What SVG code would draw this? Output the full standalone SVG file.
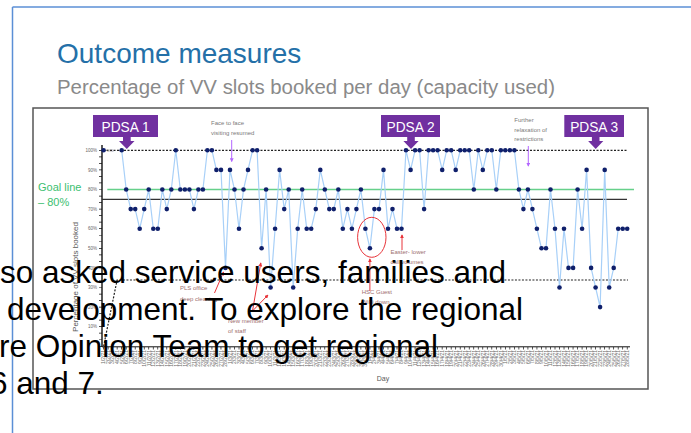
<svg xmlns="http://www.w3.org/2000/svg" width="691" height="433" viewBox="0 0 691 433">
<defs>
<style>
.sans{font-family:"Liberation Sans",Arial,sans-serif}
.pt{fill:#0f1f6b}
.tick{font-family:"Liberation Sans",Arial,sans-serif;font-size:4.5px;fill:#666}
.dl{font-family:"Liberation Sans",Arial,sans-serif;font-size:5px;fill:#6a6a6a}
.ann{font-family:"Liberation Sans",Arial,sans-serif;font-size:6px;fill:#7a7a7a}
.rann{font-family:"Liberation Sans",Arial,sans-serif;font-size:6px;fill:#a07070}
.pdsa{fill:#7030a0}
.pdsat{font-family:"Liberation Sans",Arial,sans-serif;font-size:15px;fill:#fff;text-anchor:middle}
.big{font-family:"Liberation Sans",Arial,sans-serif;font-size:31.5px;fill:#000}
.red{stroke:#e8343a;stroke-width:1;fill:none}
.pur{stroke:#b366ff;stroke-width:1;fill:none}
.dot{stroke:#222;stroke-width:1.2;stroke-dasharray:2 1.5;fill:none}
</style>
<marker id="ar" viewBox="0 0 6 6" refX="5" refY="3" markerWidth="4" markerHeight="4" orient="auto" markerUnits="userSpaceOnUse"><path d="M0,0 L6,3 L0,6 Z" fill="#e8343a"/></marker>
<marker id="ap" viewBox="0 0 6 6" refX="5" refY="3" markerWidth="4" markerHeight="4" orient="auto" markerUnits="userSpaceOnUse"><path d="M0,0 L6,3 L0,6 Z" fill="#b366ff"/></marker>
</defs>
<rect width="691" height="433" fill="#fff"/>
<g id="slide-frame">
<line x1="12.5" y1="7" x2="691" y2="7" stroke="#5b8fd6" stroke-width="1.5"/>
<line x1="12.5" y1="7" x2="12.5" y2="433" stroke="#5b8fd6" stroke-width="1.5"/>
</g>
<g id="title">
<text class="sans" x="57" y="63" font-size="28" fill="#2470a8">Outcome measures</text>
<text class="sans" x="57" y="94" font-size="20" fill="#8a8a8a" textLength="498" lengthAdjust="spacingAndGlyphs">Percentage of VV slots booked per day (capacity used)</text>
</g>
<g id="chart-frame">
<rect x="33" y="108" width="615" height="281" fill="#fff" stroke="#555" stroke-width="1.5"/>
</g>
<g id="axes">
<line x1="102" y1="145" x2="102" y2="347" stroke="#111" stroke-width="1.4"/>
<line x1="100.5" y1="149.95" x2="100.5" y2="347" stroke="#111" stroke-width="3" stroke-dasharray="0.7 5.833"/>
<line x1="102" y1="346.8" x2="630" y2="346.8" stroke="#111" stroke-width="1"/>
<line x1="103.25" y1="348.3" x2="630" y2="348.3" stroke="#111" stroke-width="2.5" stroke-dasharray="0.7 3.814"/>
<g class="tick" text-anchor="end">
<text x="97" y="151.9">100%</text><text x="97" y="171.5">90%</text><text x="97" y="191.1">80%</text><text x="97" y="210.7">70%</text><text x="97" y="230.3">60%</text><text x="97" y="249.9">50%</text><text x="97" y="269.5">40%</text><text x="97" y="289.1">30%</text><text x="97" y="308.7">20%</text><text x="97" y="328.3">10%</text>
</g>
<text class="sans" transform="translate(78,277) rotate(-90)" text-anchor="middle" font-size="8" fill="#595959">Percentage of VV slots booked</text>
<text class="sans" x="383" y="381" text-anchor="middle" font-size="7" fill="#595959">Day</text>
<g transform="rotate(-90)" class="dl" text-anchor="end">
<text><tspan x="-350" y="105.4">1/2/21</tspan><tspan x="-350" y="109.9">2/2/21</tspan><tspan x="-350" y="114.4">3/2/21</tspan><tspan x="-350" y="118.9">4/2/21</tspan><tspan x="-350" y="123.5">5/2/21</tspan><tspan x="-350" y="128.0">6/2/21</tspan><tspan x="-350" y="132.5">7/2/21</tspan><tspan x="-350" y="137.0">8/2/21</tspan><tspan x="-350" y="141.5">9/2/21</tspan><tspan x="-350" y="146.0">10/2/21</tspan><tspan x="-350" y="150.5">11/2/21</tspan><tspan x="-350" y="155.1">12/2/21</tspan><tspan x="-350" y="159.6">13/2/21</tspan><tspan x="-350" y="164.1">14/2/21</tspan><tspan x="-350" y="168.6">15/2/21</tspan><tspan x="-350" y="173.1">16/2/21</tspan><tspan x="-350" y="177.6">17/2/21</tspan><tspan x="-350" y="182.1">18/2/21</tspan><tspan x="-350" y="186.7">19/2/21</tspan><tspan x="-350" y="191.2">20/2/21</tspan><tspan x="-350" y="195.7">21/2/21</tspan><tspan x="-350" y="200.2">22/2/21</tspan><tspan x="-350" y="204.7">23/2/21</tspan><tspan x="-350" y="209.2">24/2/21</tspan><tspan x="-350" y="213.7">25/2/21</tspan><tspan x="-350" y="218.3">26/2/21</tspan><tspan x="-350" y="222.8">27/2/21</tspan><tspan x="-350" y="227.3">28/2/21</tspan><tspan x="-350" y="231.8">1/3/21</tspan><tspan x="-350" y="236.3">2/3/21</tspan><tspan x="-350" y="240.8">3/3/21</tspan><tspan x="-350" y="245.3">4/3/21</tspan><tspan x="-350" y="249.8">5/3/21</tspan><tspan x="-350" y="254.4">6/3/21</tspan><tspan x="-350" y="258.9">7/3/21</tspan><tspan x="-350" y="263.4">8/3/21</tspan><tspan x="-350" y="267.9">9/3/21</tspan><tspan x="-350" y="272.4">10/3/21</tspan><tspan x="-350" y="276.9">11/3/21</tspan><tspan x="-350" y="281.4">12/3/21</tspan><tspan x="-350" y="286.0">13/3/21</tspan><tspan x="-350" y="290.5">14/3/21</tspan><tspan x="-350" y="295.0">15/3/21</tspan><tspan x="-350" y="299.5">16/3/21</tspan><tspan x="-350" y="304.0">17/3/21</tspan><tspan x="-350" y="308.5">18/3/21</tspan><tspan x="-350" y="313.0">19/3/21</tspan><tspan x="-350" y="317.6">20/3/21</tspan><tspan x="-350" y="322.1">21/3/21</tspan><tspan x="-350" y="326.6">22/3/21</tspan><tspan x="-350" y="331.1">23/3/21</tspan><tspan x="-350" y="335.6">24/3/21</tspan><tspan x="-350" y="340.1">25/3/21</tspan><tspan x="-350" y="344.6">26/3/21</tspan><tspan x="-350" y="349.2">27/3/21</tspan><tspan x="-350" y="353.7">28/3/21</tspan><tspan x="-350" y="358.2">29/3/21</tspan><tspan x="-350" y="362.7">30/3/21</tspan><tspan x="-350" y="367.2">31/3/21</tspan><tspan x="-350" y="371.7">1/4/21</tspan><tspan x="-350" y="376.2">2/4/21</tspan><tspan x="-350" y="380.8">3/4/21</tspan><tspan x="-350" y="385.3">4/4/21</tspan><tspan x="-350" y="389.8">5/4/21</tspan><tspan x="-350" y="394.3">6/4/21</tspan><tspan x="-350" y="398.8">7/4/21</tspan><tspan x="-350" y="403.3">8/4/21</tspan><tspan x="-350" y="407.8">9/4/21</tspan><tspan x="-350" y="412.4">10/4/21</tspan><tspan x="-350" y="416.9">11/4/21</tspan><tspan x="-350" y="421.4">12/4/21</tspan><tspan x="-350" y="425.9">13/4/21</tspan><tspan x="-350" y="430.4">14/4/21</tspan><tspan x="-350" y="434.9">15/4/21</tspan><tspan x="-350" y="439.4">16/4/21</tspan><tspan x="-350" y="444.0">17/4/21</tspan><tspan x="-350" y="448.5">18/4/21</tspan><tspan x="-350" y="453.0">19/4/21</tspan><tspan x="-350" y="457.5">20/4/21</tspan><tspan x="-350" y="462.0">21/4/21</tspan><tspan x="-350" y="466.5">22/4/21</tspan><tspan x="-350" y="471.0">23/4/21</tspan><tspan x="-350" y="475.5">24/4/21</tspan><tspan x="-350" y="480.1">25/4/21</tspan><tspan x="-350" y="484.6">26/4/21</tspan><tspan x="-350" y="489.1">27/4/21</tspan><tspan x="-350" y="493.6">28/4/21</tspan><tspan x="-350" y="498.1">29/4/21</tspan><tspan x="-350" y="502.6">30/4/21</tspan><tspan x="-350" y="507.1">1/5/21</tspan><tspan x="-350" y="511.7">2/5/21</tspan><tspan x="-350" y="516.2">3/5/21</tspan><tspan x="-350" y="520.7">4/5/21</tspan><tspan x="-350" y="525.2">5/5/21</tspan><tspan x="-350" y="529.7">6/5/21</tspan><tspan x="-350" y="534.2">7/5/21</tspan><tspan x="-350" y="538.7">8/5/21</tspan><tspan x="-350" y="543.3">9/5/21</tspan><tspan x="-350" y="547.8">10/5/21</tspan><tspan x="-350" y="552.3">11/5/21</tspan><tspan x="-350" y="556.8">12/5/21</tspan><tspan x="-350" y="561.3">13/5/21</tspan><tspan x="-350" y="565.8">14/5/21</tspan><tspan x="-350" y="570.3">15/5/21</tspan><tspan x="-350" y="574.9">16/5/21</tspan><tspan x="-350" y="579.4">17/5/21</tspan><tspan x="-350" y="583.9">18/5/21</tspan><tspan x="-350" y="588.4">19/5/21</tspan><tspan x="-350" y="592.9">20/5/21</tspan><tspan x="-350" y="597.4">21/5/21</tspan><tspan x="-350" y="601.9">22/5/21</tspan><tspan x="-350" y="606.5">23/5/21</tspan><tspan x="-350" y="611.0">24/5/21</tspan><tspan x="-350" y="615.5">25/5/21</tspan><tspan x="-350" y="620.0">26/5/21</tspan><tspan x="-350" y="624.5">27/5/21</tspan><tspan x="-350" y="629.0">28/5/21</tspan></text>
</g>
</g>
<g id="control-lines">
<line class="dot" x1="103" y1="150.3" x2="628" y2="150.3"/>
<polyline class="dot" points="103.6,346.3 117.1,280 628,280"/>
<line x1="102" y1="199.3" x2="627" y2="199.3" stroke="#333" stroke-width="1.3"/>
<line x1="107.3" y1="189.5" x2="634" y2="189.5" stroke="#66d08a" stroke-width="1.6"/>
<text class="sans" x="107" y="152" font-size="3.5" fill="#888">UCL</text>
</g>
<g id="goal-label" class="sans" font-size="11" fill="#3cc070">
<text x="38" y="191">Goal line</text>
<text x="38" y="206">– 80%</text>
</g>
<g id="series">
<polyline fill="none" stroke="#a8d0f8" stroke-width="1.2" points="121.7,150.3 126.2,189.5 130.7,209.1 135.2,209.1 139.7,228.7 144.2,209.1 148.7,189.5 153.3,228.7 157.8,228.7 162.3,189.5 166.8,209.1 171.3,189.5 175.8,150.3 180.3,189.5 184.9,189.5 189.4,189.5 193.9,209.1 198.4,189.5 202.9,189.5 207.4,150.3 211.9,150.3 216.4,169.9 221.0,169.9 225.5,267.9 230.0,169.9 234.5,189.5 239.0,228.7 243.5,189.5 248.0,169.9 252.6,150.3 257.1,150.3 261.6,248.3 266.1,189.5 270.6,287.5 275.1,228.7 279.6,169.9 284.2,209.1 288.7,189.5 293.2,287.5 297.7,228.7 302.2,189.5 306.7,228.7 311.2,228.7 315.8,209.1 320.3,169.9 324.8,189.5 329.3,209.1 333.8,209.1 338.3,189.5 342.8,228.7 347.4,209.1 351.9,228.7 356.4,209.1 360.9,189.5 365.4,228.7 369.9,248.3 374.4,209.1 379.0,209.1 383.5,169.9 388.0,228.7 392.5,209.1 397.0,228.7 401.5,228.7 406.0,150.3 410.6,169.9 415.1,150.3 419.6,150.3 424.1,209.1 428.6,150.3 433.1,150.3 437.6,150.3 442.2,169.9 446.7,150.3 451.2,150.3 455.7,169.9 460.2,150.3 464.7,150.3 469.2,150.3 473.8,189.5 478.3,150.3 482.8,169.9 487.3,150.3 491.8,150.3 496.3,189.5 500.8,150.3 505.3,150.3 509.9,150.3 514.4,150.3 518.9,189.5 523.4,209.1 527.9,189.5 532.4,209.1 536.9,228.7 541.5,248.3 546.0,248.3 550.5,189.5 555.0,228.7 559.5,287.5 564.0,228.7 568.5,267.9 573.1,267.9 577.6,189.5 582.1,228.7 586.6,169.9 591.1,267.9 595.6,287.5 600.1,307.1 604.7,169.9 609.2,287.5 613.7,267.9 618.2,228.7 622.7,228.7 627.2,228.7"/>
<g class="pt">
<circle cx="103.6" cy="150.3" r="2.3"/>
<circle cx="121.7" cy="150.3" r="2.3"/><circle cx="126.2" cy="189.5" r="2.3"/><circle cx="130.7" cy="209.1" r="2.3"/><circle cx="135.2" cy="209.1" r="2.3"/><circle cx="139.7" cy="228.7" r="2.3"/><circle cx="144.2" cy="209.1" r="2.3"/><circle cx="148.7" cy="189.5" r="2.3"/><circle cx="153.3" cy="228.7" r="2.3"/><circle cx="157.8" cy="228.7" r="2.3"/><circle cx="162.3" cy="189.5" r="2.3"/>
<circle cx="166.8" cy="209.1" r="2.3"/><circle cx="171.3" cy="189.5" r="2.3"/><circle cx="175.8" cy="150.3" r="2.3"/><circle cx="180.3" cy="189.5" r="2.3"/><circle cx="184.9" cy="189.5" r="2.3"/><circle cx="189.4" cy="189.5" r="2.3"/><circle cx="193.9" cy="209.1" r="2.3"/><circle cx="198.4" cy="189.5" r="2.3"/><circle cx="202.9" cy="189.5" r="2.3"/><circle cx="207.4" cy="150.3" r="2.3"/>
<circle cx="211.9" cy="150.3" r="2.3"/><circle cx="216.4" cy="169.9" r="2.3"/><circle cx="221.0" cy="169.9" r="2.3"/><circle cx="225.5" cy="267.9" r="2.3"/><circle cx="230.0" cy="169.9" r="2.3"/><circle cx="234.5" cy="189.5" r="2.3"/><circle cx="239.0" cy="228.7" r="2.3"/><circle cx="243.5" cy="189.5" r="2.3"/><circle cx="248.0" cy="169.9" r="2.3"/><circle cx="252.6" cy="150.3" r="2.3"/>
<circle cx="257.1" cy="150.3" r="2.3"/><circle cx="261.6" cy="248.3" r="2.3"/><circle cx="266.1" cy="189.5" r="2.3"/><circle cx="270.6" cy="287.5" r="2.3"/><circle cx="275.1" cy="228.7" r="2.3"/><circle cx="279.6" cy="169.9" r="2.3"/><circle cx="284.2" cy="209.1" r="2.3"/><circle cx="288.7" cy="189.5" r="2.3"/><circle cx="293.2" cy="287.5" r="2.3"/><circle cx="297.7" cy="228.7" r="2.3"/>
<circle cx="302.2" cy="189.5" r="2.3"/><circle cx="306.7" cy="228.7" r="2.3"/><circle cx="311.2" cy="228.7" r="2.3"/><circle cx="315.8" cy="209.1" r="2.3"/><circle cx="320.3" cy="169.9" r="2.3"/><circle cx="324.8" cy="189.5" r="2.3"/><circle cx="329.3" cy="209.1" r="2.3"/><circle cx="333.8" cy="209.1" r="2.3"/><circle cx="338.3" cy="189.5" r="2.3"/><circle cx="342.8" cy="228.7" r="2.3"/>
<circle cx="347.4" cy="209.1" r="2.3"/><circle cx="351.9" cy="228.7" r="2.3"/><circle cx="356.4" cy="209.1" r="2.3"/><circle cx="360.9" cy="189.5" r="2.3"/><circle cx="365.4" cy="228.7" r="2.3"/><circle cx="369.9" cy="248.3" r="2.3"/><circle cx="374.4" cy="209.1" r="2.3"/><circle cx="379.0" cy="209.1" r="2.3"/><circle cx="383.5" cy="169.9" r="2.3"/><circle cx="388.0" cy="228.7" r="2.3"/>
<circle cx="392.5" cy="209.1" r="2.3"/><circle cx="397.0" cy="228.7" r="2.3"/><circle cx="401.5" cy="228.7" r="2.3"/><circle cx="406.0" cy="150.3" r="2.3"/><circle cx="410.6" cy="169.9" r="2.3"/><circle cx="415.1" cy="150.3" r="2.3"/><circle cx="419.6" cy="150.3" r="2.3"/><circle cx="424.1" cy="209.1" r="2.3"/><circle cx="428.6" cy="150.3" r="2.3"/><circle cx="433.1" cy="150.3" r="2.3"/>
<circle cx="437.6" cy="150.3" r="2.3"/><circle cx="442.2" cy="169.9" r="2.3"/><circle cx="446.7" cy="150.3" r="2.3"/><circle cx="451.2" cy="150.3" r="2.3"/><circle cx="455.7" cy="169.9" r="2.3"/><circle cx="460.2" cy="150.3" r="2.3"/><circle cx="464.7" cy="150.3" r="2.3"/><circle cx="469.2" cy="150.3" r="2.3"/><circle cx="473.8" cy="189.5" r="2.3"/><circle cx="478.3" cy="150.3" r="2.3"/>
<circle cx="482.8" cy="169.9" r="2.3"/><circle cx="487.3" cy="150.3" r="2.3"/><circle cx="491.8" cy="150.3" r="2.3"/><circle cx="496.3" cy="189.5" r="2.3"/><circle cx="500.8" cy="150.3" r="2.3"/><circle cx="505.3" cy="150.3" r="2.3"/><circle cx="509.9" cy="150.3" r="2.3"/><circle cx="514.4" cy="150.3" r="2.3"/><circle cx="518.9" cy="189.5" r="2.3"/><circle cx="523.4" cy="209.1" r="2.3"/>
<circle cx="527.9" cy="189.5" r="2.3"/><circle cx="532.4" cy="209.1" r="2.3"/><circle cx="536.9" cy="228.7" r="2.3"/><circle cx="541.5" cy="248.3" r="2.3"/><circle cx="546.0" cy="248.3" r="2.3"/><circle cx="550.5" cy="189.5" r="2.3"/><circle cx="555.0" cy="228.7" r="2.3"/><circle cx="559.5" cy="287.5" r="2.3"/><circle cx="564.0" cy="228.7" r="2.3"/><circle cx="568.5" cy="267.9" r="2.3"/>
<circle cx="573.1" cy="267.9" r="2.3"/><circle cx="577.6" cy="189.5" r="2.3"/><circle cx="582.1" cy="228.7" r="2.3"/><circle cx="586.6" cy="169.9" r="2.3"/><circle cx="591.1" cy="267.9" r="2.3"/><circle cx="595.6" cy="287.5" r="2.3"/><circle cx="600.1" cy="307.1" r="2.3"/><circle cx="604.7" cy="169.9" r="2.3"/><circle cx="609.2" cy="287.5" r="2.3"/><circle cx="613.7" cy="267.9" r="2.3"/>
<circle cx="618.2" cy="228.7" r="2.3"/><circle cx="622.7" cy="228.7" r="2.3"/><circle cx="627.2" cy="228.7" r="2.3"/>
</g>
</g>
<g id="pdsa1">
<path class="pdsa" d="M93,115 H158 V137 H130.7 V141 H134.5 L126.8,149 L119,141 H123 V137 H93 Z"/>
<text class="pdsat" x="125.5" y="131.5" textLength="48" lengthAdjust="spacingAndGlyphs">PDSA 1</text>
</g>
<g id="pdsa2">
<path class="pdsa" d="M381,115 H440 V137 H414.8 V141 H418.6 L411,149 L403.4,141 H407.2 V137 H381 Z"/>
<text class="pdsat" x="410.5" y="131.5" textLength="48" lengthAdjust="spacingAndGlyphs">PDSA 2</text>
</g>
<g id="pdsa3">
<path class="pdsa" d="M564.3,115 H624 V137 H599.5 V141 H603.3 L595.7,149 L588.1,141 H591.9 V137 H564.3 Z"/>
<text class="pdsat" x="594.2" y="131.5" textLength="48" lengthAdjust="spacingAndGlyphs">PDSA 3</text>
</g>
<g id="annotations">
<g id="note-visiting" class="ann"><text x="211" y="124.5">Face to face</text><text x="211" y="134.5">visiting resumed</text></g>
<g id="note-relaxation" class="ann"><text x="514.3" y="121.7">Further</text><text x="514.3" y="131.5">relaxation  of</text><text x="514.3" y="141">restrictions</text></g>
<g id="note-pls" class="rann"><text x="180" y="290">PLS office</text><text x="180" y="300.5">deep cleaning</text></g>
<g id="note-staff" class="rann"><text x="228" y="322.5">New member</text><text x="228" y="333">of staff</text></g>
<g id="note-wifi" class="rann"><text x="361.7" y="294">HSC Guest</text><text x="361.7" y="304">WiFi down</text></g>
<g id="note-easter" class="rann"><text x="390.5" y="254">Easter- lower</text><text x="390.5" y="263.5">call volumes</text></g>
<ellipse id="wifi-circle" cx="371.8" cy="237.3" rx="14.2" ry="20" class="red"/>
</g>
<g id="connectors">
<line class="pur" x1="231.7" y1="140" x2="231.7" y2="161.5" marker-end="url(#ap)"/>
<line class="pur" x1="528.3" y1="146" x2="528.3" y2="166" marker-end="url(#ap)"/>
<line class="red" x1="214.5" y1="293" x2="223.5" y2="272" marker-end="url(#ar)"/>
<line class="red" x1="252.5" y1="311" x2="260.8" y2="263" marker-end="url(#ar)"/>
<line class="red" x1="252.5" y1="311" x2="268" y2="295" marker-end="url(#ar)"/>
<line class="red" x1="369.9" y1="291" x2="369.9" y2="259" marker-end="url(#ar)"/>
<line class="red" x1="402" y1="250" x2="402" y2="235" marker-end="url(#ar)"/>
</g>
<g id="overlay-text" class="big">
<text x="0" y="283">so asked service users, families and</text>
<text x="7" y="320">development. To explore the regional</text>
<text x="-1" y="357">re Opinion Team to get regional</text>
<text x="-10" y="394">6 and 7.</text>
</g>
</svg>
